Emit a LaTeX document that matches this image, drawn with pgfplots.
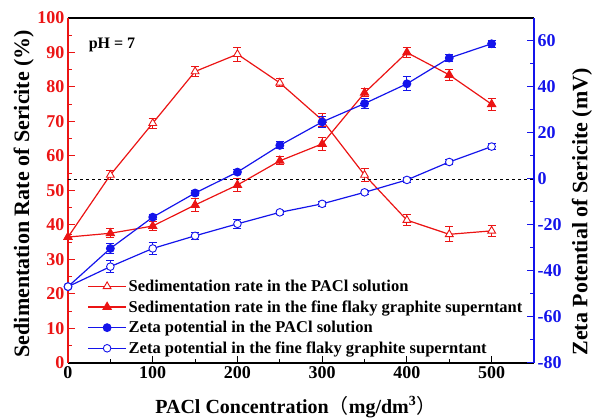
\documentclass[border=0pt]{standalone}
\usepackage{fontspec}
\setmainfont{Liberation Serif}
\newfontfamily\cjk{Noto Sans CJK SC}
\usepackage{pgfplots}
\pgfplotsset{compat=1.18}
\definecolor{myred}{RGB}{235,20,20}
\definecolor{myblue}{RGB}{20,20,235}
\pgfplotsset{
  redopen/.style={myred, line width=1.2pt, mark=triangle*, mark size=4.5pt, mark options={fill=white, solid, line width=0.9pt}},
  redfill/.style={myred, line width=1.2pt, mark=triangle*, mark size=4.5pt, mark options={fill=myred, solid}},
  bluefill/.style={myblue, line width=1.2pt, mark=*, mark size=3.8pt, mark options={fill=myblue, solid}},
  blueopen/.style={myblue, line width=1.2pt, mark=*, mark size=3.8pt, mark options={fill=white, solid, line width=0.9pt}},
  myerr/.style={error bars/.cd, y dir=both, y explicit, error bar style={line width=1pt}, error mark options={rotate=90, mark size=4pt, line width=1pt}},
  common/.style={
    scale only axis, width=466pt, height=345pt,
    xmin=0, xmax=550,
    tick align=inside, major tick length=7pt, minor tick length=4pt,
    tick label style={font=\fontsize{18}{18}\selectfont\bfseries},
    /pgf/number format/assume math mode=true,
    legend image code/.code={\draw[mark repeat=2,mark phase=2,##1] plot coordinates {(0pt,0pt) (19pt,0pt) (38pt,0pt)};},
  },
}
\begin{document}
\begin{tikzpicture}
\path[use as bounding box] (-68pt,-56pt) rectangle (524pt,363pt);
\begin{axis}[common,
  ymin=0, ymax=100,
  separate axis lines,
  axis x line=box, axis y line*=left,
  x axis line style={black, line width=1.2pt, -},
  y axis line style={myred, line width=1.2pt, -},
  xtick={0,100,...,500}, minor xtick={50,150,...,450},
  xtick pos=bottom,
  ytick={0,10,...,100}, minor ytick={5,15,...,95},
  ytick pos=left,
  x tick style={black, line width=1pt},
  y tick style={myred, line width=1pt},
  yticklabel style={myred},
  xlabel={\fontsize{20}{20}\selectfont\bfseries PACl Concentration{\cjk\mdseries （}mg/dm\textsuperscript{3}{\cjk\mdseries ）}},
  xlabel style={at={(axis description cs:0.489,-0.127)}, anchor=center},
  ylabel={\fontsize{22}{22}\selectfont\bfseries Sedimentation Rate of Sericite (\%)},
  ylabel style={at={(axis description cs:-0.095,0.491)}, anchor=center, rotate=0, black},
]
\addplot[redopen, myerr] table[x index=0, y index=1, y error index=2] {
0 36.5 0.8
50 54.5 1.2
100 69.5 1.5
150 84.5 1.5
200 89.5 2
250 81.2 1.2
300 70.4 1.8
350 54.5 1.8
400 41.4 1.5
450 37.3 2.2
500 38.3 1.5
};
\addplot[redfill, myerr] table[x index=0, y index=1, y error index=2] {
0 36.5 0.8
50 37.6 1.3
100 39.7 1.2
150 45.8 1.8
200 51.6 1.8
250 58.6 1.2
300 63.5 1.8
350 78.3 1.2
400 90.0 1.5
450 83.5 1.5
500 75.0 1.8
};
\node[anchor=west, font=\fontsize{16}{16}\selectfont\bfseries] at (axis description cs:0.037,0.922) {pH = 7};
\end{axis}
\begin{axis}[common,
  ymin=-80, ymax=70,
  axis x line=none, axis y line*=right,
  y axis line style={myblue, line width=1.2pt, -},
  ytick={-80,-60,...,60}, minor ytick={-70,-50,...,50},
  y tick style={myblue, line width=1pt},
  yticklabel style={myblue},
  ylabel={\fontsize{22}{22}\selectfont\bfseries Zeta Potential of Sericite (mV)},
  ylabel style={at={(axis description cs:1.103,0.438)}, anchor=center, rotate=0, black},
  legend style={at={(axis description cs:0.035,0.253)}, anchor=north west, draw=none, fill=none,
    font=\fontsize{16.5}{17}\selectfont\bfseries, row sep=3.6pt, cells={anchor=west}},
]
\addlegendimage{redopen}
\addlegendentry{Sedimentation rate in the PACl solution}
\addlegendimage{redfill}
\addlegendentry{Sedimentation rate in the fine flaky graphite superntant}
\addplot[black, dashed, line width=0.8pt, forget plot] coordinates {(0,0) (550,0)};
\addplot[bluefill, myerr] table[x index=0, y index=1, y error index=2] {
0 -46.8 1
50 -30.2 2
100 -16.6 1
150 -6.1 1
200 3.0 1
250 14.6 1.5
300 24.8 2.5
350 32.8 2.2
400 41.4 3
450 52.6 1.5
500 58.8 1.5
};
\addlegendentry{Zeta potential in the PACl solution}
\addplot[blueopen, myerr] table[x index=0, y index=1, y error index=2] {
0 -46.8 1
50 -38.1 2.5
100 -30.2 2.5
150 -24.7 1.5
200 -19.5 2
250 -14.5 1
300 -10.8 1
350 -5.8 1
400 -0.4 1
450 7.4 1
500 14.1 1.2
};
\addlegendentry{Zeta potential in the fine flaky graphite superntant}
\end{axis}
\end{tikzpicture}
\end{document}
